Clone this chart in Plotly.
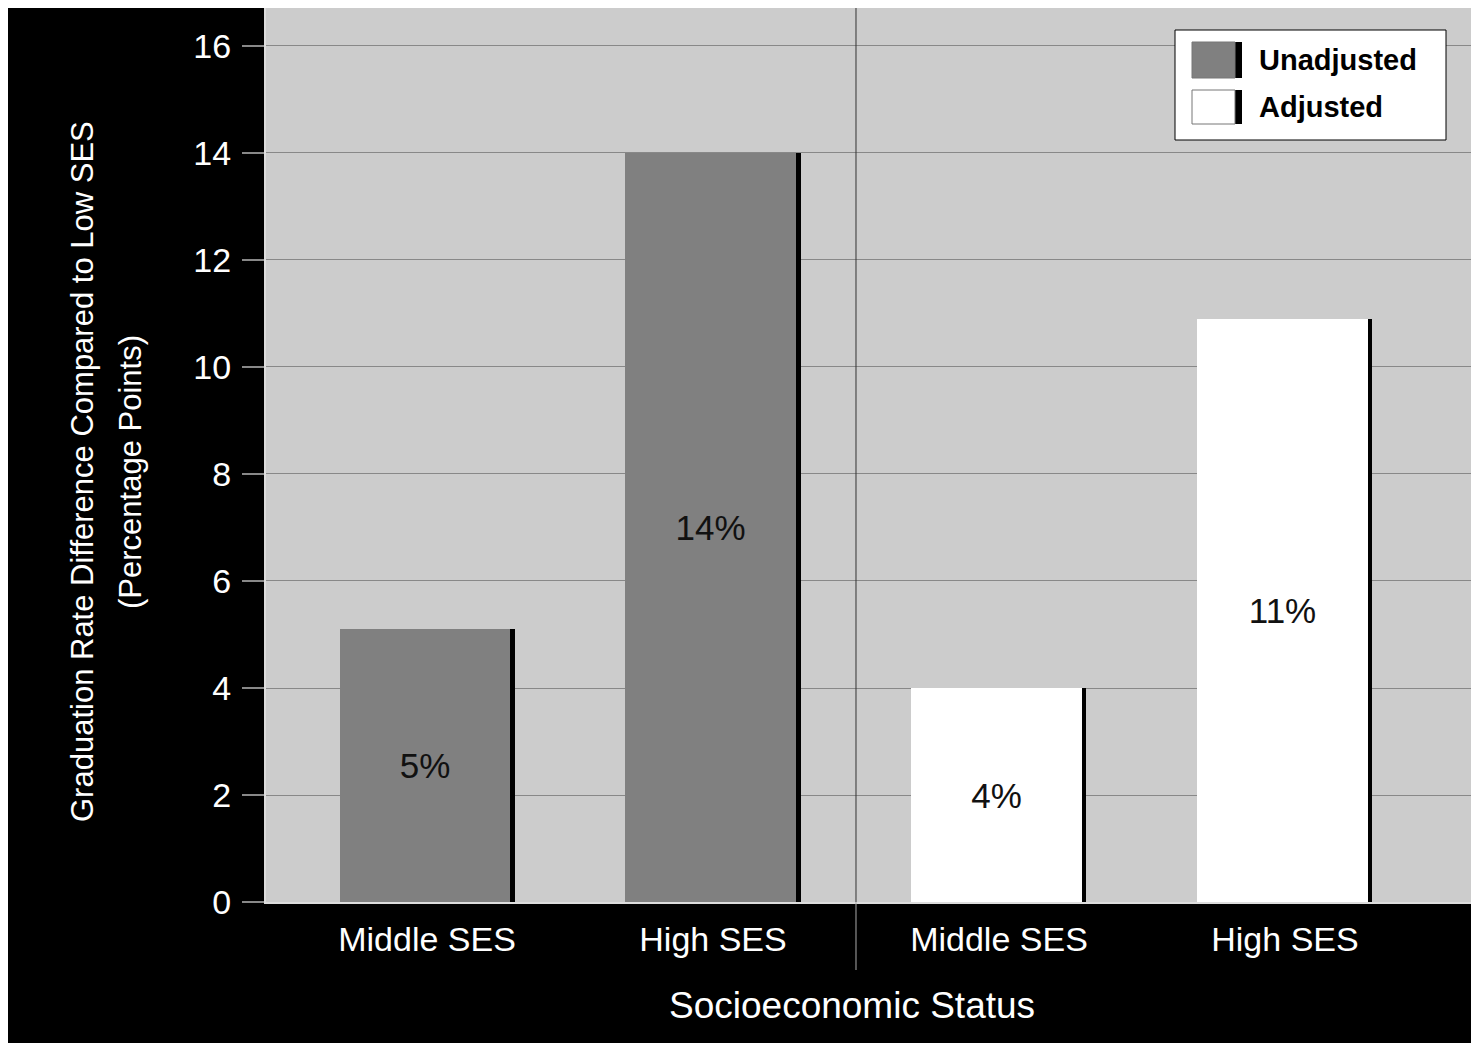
import plotly.graph_objects as go

# ---- data ----
categories = ["Middle SES", "High SES"]
series_names = ["Unadjusted", "Adjusted"]
unadjusted = [5.1, 14.0]
adjusted = [4.0, 10.9]
y_ticks = [0, 2, 4, 6, 8, 10, 12, 14, 16]
x_title = "Socioeconomic Status"
y_title_lines = ["Graduation Rate Difference Compared to Low SES", "(Percentage Points)"]

# ---- layout constants (pixels) ----
OX, OY = 8, 8            # page body margin: figure origin on screen
W, H = 1464, 1035
L, R, T, B = 258, 0, 0, 141
PW, PH = W - L - R, H - T - B

def px_x(sx):
    return (sx - OX - L) / PW

def px_y(sy):
    return (H - B - (sy - OY)) / PH

FONT = "Liberation Sans, Arial, sans-serif"

x_unadj = [0, 1]
x_adj = [2, 3]
fills = {"Unadjusted": "#808080", "Adjusted": "#ffffff"}
BW = 0.612
SH = 0.015

fig = go.Figure()
for name, xs, vals in [("Unadjusted", x_unadj, unadjusted), ("Adjusted", x_adj, adjusted)]:
    # black shadow (right edge)
    fig.add_trace(go.Bar(
        x=xs, y=vals, width=[BW] * len(xs), offset=-BW / 2,
        marker=dict(color="#000000", line=dict(width=0)),
        showlegend=False, hoverinfo="skip",
    ))
    fig.add_trace(go.Bar(
        x=xs, y=vals, width=[BW - SH] * len(xs), offset=-BW / 2,
        marker=dict(color=fills[name], line=dict(width=0)),
        text=[f"{round(v)}%" for v in vals],
        textposition="inside", insidetextanchor="middle", textangle=0,
        constraintext="none",
        textfont=dict(family=FONT, size=35, color="#111111"),
        name=name, showlegend=False,
    ))

shapes = []
# divider between groups
shapes.append(dict(type="line", xref="x", yref="paper", x0=1.5, x1=1.5, y0=0, y1=1,
                   line=dict(color="#333333", width=1), layer="above"))
shapes.append(dict(type="line", xref="x", yref="paper", x0=1.5, x1=1.5, y0=px_y(970), y1=0,
                   line=dict(color="#aaaaaa", width=1), layer="above"))
# legend box
shapes.append(dict(type="rect", xref="paper", yref="paper",
                   x0=px_x(1175), x1=px_x(1446), y0=px_y(140), y1=px_y(30),
                   fillcolor="#ffffff", line=dict(color="#000000", width=1), layer="above"))
sw_rows = [(42, 78), (90, 124)]
annotations = []
for (ya, yb), name in zip(sw_rows, series_names):
    shapes.append(dict(type="rect", xref="paper", yref="paper",
                       x0=px_x(1192), x1=px_x(1242), y0=px_y(yb), y1=px_y(ya),
                       fillcolor="#000000", line=dict(width=0), layer="above"))
    shapes.append(dict(type="rect", xref="paper", yref="paper",
                       x0=px_x(1192), x1=px_x(1235), y0=px_y(yb), y1=px_y(ya),
                       fillcolor=fills[name], line=dict(color="#777777", width=1), layer="above"))
    annotations.append(dict(xref="paper", yref="paper", x=px_x(1257), y=px_y((ya + yb) / 2),
                            xanchor="left", yanchor="middle", showarrow=False, text=name,
                            font=dict(family=FONT, size=29, color="#000000", weight="bold")))

for sx, line in zip([82, 130], y_title_lines):
    annotations.append(dict(xref="paper", yref="paper", x=px_x(sx), y=px_y(472),
                            xanchor="center", yanchor="middle", textangle=-90, showarrow=False,
                            text=line, font=dict(family=FONT, size=31, color="#ffffff")))
annotations.append(dict(xref="paper", yref="paper", x=px_x(852), y=px_y(1005),
                        xanchor="center", yanchor="middle", showarrow=False,
                        text=x_title, font=dict(family=FONT, size=37, color="#ffffff")))

fig.update_layout(
    width=W, height=H,
    margin=dict(l=L, r=R, t=T, b=B, autoexpand=False),
    paper_bgcolor="#000000",
    plot_bgcolor="#cccccc",
    barmode="overlay",
    bargap=0,
    showlegend=False,
    shapes=shapes,
    annotations=annotations,
    font=dict(family=FONT, color="#ffffff"),
)
fig.update_xaxes(
    range=[-0.563, 3.654],
    tickvals=x_unadj + x_adj,
    ticktext=categories + categories,
    tickfont=dict(family=FONT, size=34, color="#ffffff"),
    ticks="", ticklabelstandoff=6,
    showgrid=False, zeroline=False,
    showline=True, linecolor="#dddddd", linewidth=2,
    fixedrange=True,
)
fig.update_yaxes(
    range=[0, 16.71],
    tickvals=y_ticks,
    tickfont=dict(family=FONT, size=34, color="#ffffff"),
    ticks="outside", ticklen=22, tickcolor="#888888", tickwidth=2,
    ticklabelstandoff=4,
    showgrid=True, gridcolor="#888888", gridwidth=1,
    zeroline=False,
    showline=True, linecolor="#dddddd", linewidth=2,
    fixedrange=True,
)

fig.write_html("out.html")
